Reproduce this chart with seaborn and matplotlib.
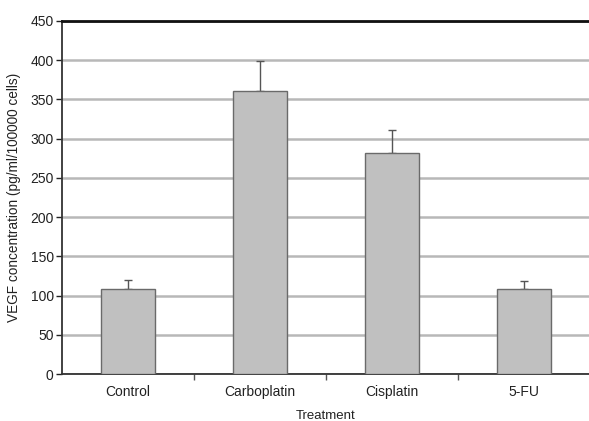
import matplotlib
matplotlib.use("Agg")
import matplotlib.pyplot as plt
import seaborn as sns
import numpy as np
import pandas as pd

categories = ["Control", "Carboplatin", "Cisplatin", "5-FU"]
means = [108, 361, 282, 108]
upper_err = [12, 38, 29, 11]
yticks = [0, 50, 100, 150, 200, 250, 300, 350, 400, 450]

sns.set_theme(style="white")
plt.rcParams['font.family'] = ['Liberation Sans', 'DejaVu Sans']

fig = plt.figure(figsize=(5.89, 4.21), dpi=100)
ax = fig.add_axes([62/589, 1-374/421, 528/589, 353/421])

df = pd.DataFrame({"Treatment": categories, "VEGF": means})
sns.barplot(data=df, x="Treatment", y="VEGF", ax=ax, color="#c0c0c0",
            edgecolor="#6a6a6a", linewidth=1.0, width=0.41, saturation=1, zorder=3)
ax.errorbar(np.arange(len(categories)), means,
            yerr=[np.zeros(len(means)), upper_err], fmt="none",
            ecolor="#555555", elinewidth=1.0, capsize=3, capthick=1.0, zorder=2)

ax.set_ylim(0, 450)
ax.set_xlim(-0.5, 3.5)
ax.set_yticks(yticks)
ax.yaxis.grid(True, color="#b8b8b8", linewidth=1.8, zorder=0)
ax.set_axisbelow(True)
ax.set_xticks(np.arange(len(categories)))
ax.set_xticklabels(categories)
ax.tick_params(axis="x", length=0, pad=8, labelsize=10, colors="#222222")
ax.tick_params(axis="y", length=4, width=1, left=True, labelsize=10, colors="#222222", pad=2)
# category boundary ticks
ax.set_xticks([0.5, 1.5, 2.5], minor=True)
ax.tick_params(axis="x", which="minor", length=4, width=1, bottom=True, color="#555555")

for s in ["left", "bottom"]:
    ax.spines[s].set_color("#333333")
    ax.spines[s].set_linewidth(1.3)
ax.spines["top"].set_color("#111111")
ax.spines["top"].set_linewidth(2)
ax.spines["right"].set_visible(False)

ax.set_ylabel("VEGF concentration (pg/ml/100000 cells)", fontsize=9.8, color="#222222", labelpad=7)
ax.set_xlabel("Treatment", fontsize=9.5, color="#222222", labelpad=8)

fig.savefig("out.png", dpi=100)
